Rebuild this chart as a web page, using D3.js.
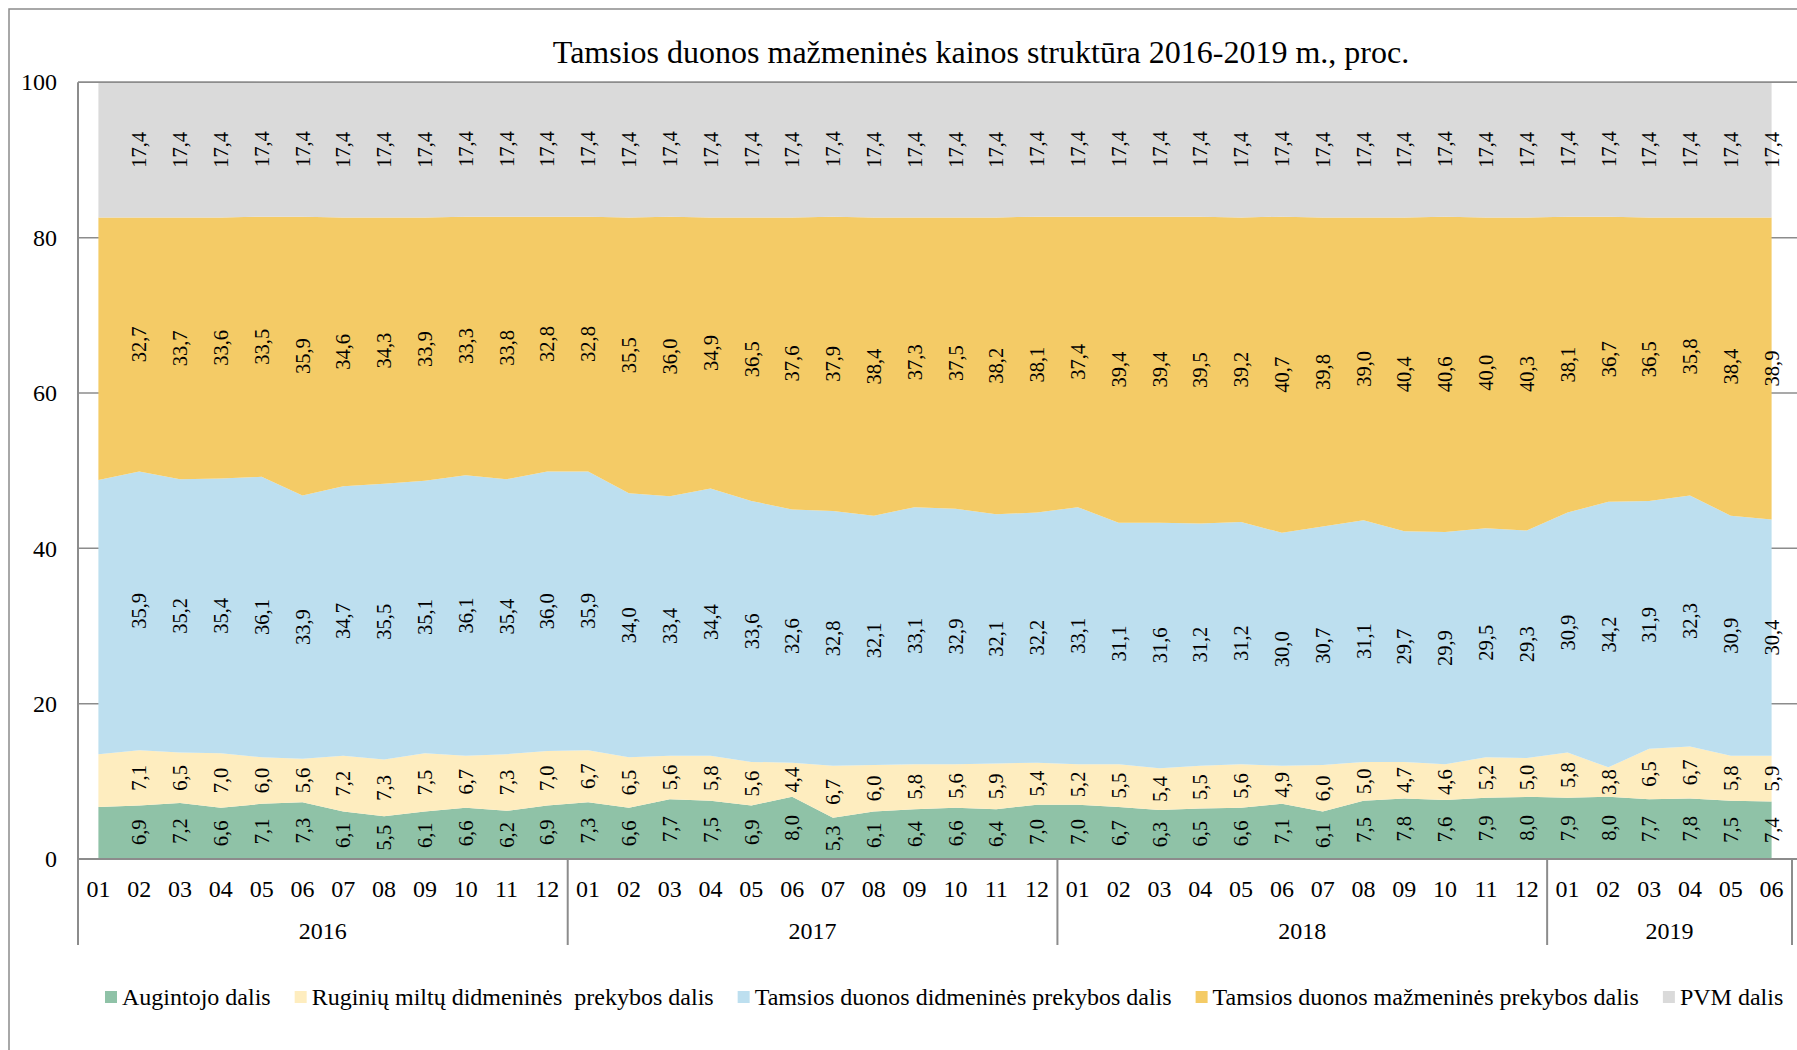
<!DOCTYPE html>
<html>
<head>
<meta charset="utf-8">
<script src="https://cdn.jsdelivr.net/npm/d3@7"></script>
<style>
  body { margin: 0; background: #fff; }
  svg text { font-family: "Liberation Serif", "Times New Roman", serif; fill: #000; }
</style>
</head>
<body>
<svg id="chart"></svg>
<script>
// categories
var years = ["2016", "2017", "2018", "2019"]
var monthsPerYear = [12, 12, 12, 6]
var monthLabels = ["01","02","03","04","05","06","07","08","09","10","11","12",
                   "01","02","03","04","05","06","07","08","09","10","11","12",
                   "01","02","03","04","05","06","07","08","09","10","11","12",
                   "01","02","03","04","05","06"]

// series values, % of retail price (first month estimated, it has no labels in the source)
var augintojo = [6.7, 6.9, 7.2, 6.6, 7.1, 7.3, 6.1, 5.5, 6.1, 6.6, 6.2, 6.9,
                 7.3, 6.6, 7.7, 7.5, 6.9, 8.0, 5.3, 6.1, 6.4, 6.6, 6.4, 7.0,
                 7.0, 6.7, 6.3, 6.5, 6.6, 7.1, 6.1, 7.5, 7.8, 7.6, 7.9, 8.0,
                 7.9, 8.0, 7.7, 7.8, 7.5, 7.4]
var ruginiu = [6.8, 7.1, 6.5, 7.0, 6.0, 5.6, 7.2, 7.3, 7.5, 6.7, 7.3, 7.0,
               6.7, 6.5, 5.6, 5.8, 5.6, 4.4, 6.7, 6.0, 5.8, 5.6, 5.9, 5.4,
               5.2, 5.5, 5.4, 5.5, 5.6, 4.9, 6.0, 5.0, 4.7, 4.6, 5.2, 5.0,
               5.8, 3.8, 6.5, 6.7, 5.8, 5.9]
var didmenine = [35.3, 35.9, 35.2, 35.4, 36.1, 33.9, 34.7, 35.5, 35.1, 36.1, 35.4, 36.0,
                 35.9, 34.0, 33.4, 34.4, 33.6, 32.6, 32.8, 32.1, 33.1, 32.9, 32.1, 32.2,
                 33.1, 31.1, 31.6, 31.2, 31.2, 30.0, 30.7, 31.1, 29.7, 29.9, 29.5, 29.3,
                 30.9, 34.2, 31.9, 32.3, 30.9, 30.4]
var mazmenine = [33.8, 32.7, 33.7, 33.6, 33.5, 35.9, 34.6, 34.3, 33.9, 33.3, 33.8, 32.8,
                 32.8, 35.5, 36.0, 34.9, 36.5, 37.6, 37.9, 38.4, 37.3, 37.5, 38.2, 38.1,
                 37.4, 39.4, 39.4, 39.5, 39.2, 40.7, 39.8, 39.0, 40.4, 40.6, 40.0, 40.3,
                 38.1, 36.7, 36.5, 35.8, 38.4, 38.9]
var pvm = [17.4, 17.4, 17.4, 17.4, 17.4, 17.4, 17.4, 17.4, 17.4, 17.4, 17.4, 17.4,
           17.4, 17.4, 17.4, 17.4, 17.4, 17.4, 17.4, 17.4, 17.4, 17.4, 17.4, 17.4,
           17.4, 17.4, 17.4, 17.4, 17.4, 17.4, 17.4, 17.4, 17.4, 17.4, 17.4, 17.4,
           17.4, 17.4, 17.4, 17.4, 17.4, 17.4]

var seriesNames = ["Augintojo dalis",
                   "Ruginių miltų didmeninės  prekybos dalis",
                   "Tamsios duonos didmeninės prekybos dalis",
                   "Tamsios duonos mažmeninės prekybos dalis",
                   "PVM dalis"]
var yTicks = [0, 20, 40, 60, 80, 100]
var title = "Tamsios duonos mažmeninės kainos struktūra 2016-2019 m., proc."

var colors = ["#8fc2a7", "#feedbf", "#bddfef", "#f4cb66", "#dadada"]
var labelFrom = 1

var dimensions = {
    width: 1797,
    height: 1050,
    margin: { top: 82.3, bottom: 191, left: 78, right: 5 }
}

var svg = d3.select("#chart")
            .attr("width", dimensions.width)
            .attr("height", dimensions.height)

// outer chart border (runs off the right / bottom edge like the source)
svg.append("rect")
   .attr("x", 9).attr("y", 9)
   .attr("width", dimensions.width).attr("height", dimensions.height)
   .attr("fill", "none").attr("stroke", "#8c8c8c").attr("stroke-width", 1.5)

var table = monthLabels.map(function(m, i) {
    return { i: i, a: augintojo[i], r: ruginiu[i], d: didmenine[i], m: mazmenine[i], p: pvm[i] }
})
var keys = ["a", "r", "d", "m", "p"]
var stackedData = d3.stack().keys(keys)(table)

var plotBottom = dimensions.height - dimensions.margin.bottom
var xScale = d3.scaleBand()
               .domain(d3.range(monthLabels.length))
               .range([dimensions.margin.left, 1792])
var xc = function(i) { return xScale(i) + xScale.bandwidth() / 2 }
var yScale = d3.scaleLinear()
               .domain([0, 100])
               .range([plotBottom, dimensions.margin.top])

// gridlines
svg.append("g").selectAll("line").data(yTicks).enter().append("line")
   .attr("x1", dimensions.margin.left).attr("x2", dimensions.width)
   .attr("y1", d => yScale(d)).attr("y2", d => yScale(d))
   .attr("stroke", "#8c8c8c").attr("stroke-width", 1.5)

var area = d3.area()
             .x(d => xc(d.data.i))
             .y0(d => yScale(d[0]))
             .y1(d => yScale(d[1]))

svg.append("g").selectAll("path").data(stackedData).enter().append("path")
   .attr("d", area)
   .attr("fill", (d, i) => colors[i])

// top & bottom lines above the fills
svg.append("line")
   .attr("x1", dimensions.margin.left).attr("x2", dimensions.width)
   .attr("y1", yScale(100)).attr("y2", yScale(100))
   .attr("stroke", "#8c8c8c").attr("stroke-width", 1.5)
svg.append("line")
   .attr("x1", dimensions.margin.left).attr("x2", dimensions.width)
   .attr("y1", yScale(0)).attr("y2", yScale(0))
   .attr("stroke", "#8c8c8c").attr("stroke-width", 2)

// data labels, rotated
var labelGroups = svg.append("g").selectAll("g").data(stackedData).enter().append("g")
labelGroups.selectAll("text")
   .data(d => d.filter(p => p.data.i >= labelFrom))
   .enter().append("text")
   .attr("transform", d => "translate(" + xc(d.data.i) + "," + yScale((d[0] + d[1]) / 2) + ") rotate(-90)")
   .attr("text-anchor", "middle")
   .attr("dy", "0.35em")
   .style("font-size", "20.5px")
   .text(d => d3.format(".1f")(d[1] - d[0]).replace(".", ","))

// y axis
var yAxis = d3.axisLeft(yScale).tickValues(yTicks).tickSize(0).tickPadding(21)
var yAxisG = svg.append("g")
   .attr("transform", "translate(" + dimensions.margin.left + ",0)")
   .call(yAxis)
yAxisG.select(".domain").remove()
yAxisG.selectAll("text").style("font-size", "24px").style("font-family", "Liberation Serif")

// x axis: months, then year groups
var xAxis = d3.axisBottom(xScale).tickSize(0).tickPadding(21).tickFormat(i => monthLabels[i])
var xAxisG = svg.append("g")
   .attr("transform", "translate(0," + plotBottom + ")")
   .call(xAxis)
xAxisG.select(".domain").remove()
xAxisG.selectAll("text").style("font-size", "24px").style("font-family", "Liberation Serif")

// left axis line
svg.append("line")
   .attr("x1", dimensions.margin.left).attr("x2", dimensions.margin.left)
   .attr("y1", yScale(100)).attr("y2", plotBottom + 86)
   .attr("stroke", "#8c8c8c").attr("stroke-width", 2)

var start = 0
years.forEach(function(y, k) {
    var first = start, last = start + monthsPerYear[k] - 1
    var x0 = xScale(first), x1 = xScale(last) + xScale.bandwidth()
    svg.append("line")
       .attr("x1", x1).attr("x2", x1)
       .attr("y1", plotBottom).attr("y2", plotBottom + 86)
       .attr("stroke", "#8c8c8c").attr("stroke-width", 2)
    svg.append("text")
       .attr("x", (x0 + x1) / 2).attr("y", plotBottom + 80)
       .attr("text-anchor", "middle")
       .style("font-size", "24px")
       .text(y)
    start = last + 1
})

// title
svg.append("text")
   .attr("x", 981).attr("y", 63)
   .attr("text-anchor", "middle")
   .style("font-size", "32px")
   .text(title)

// legend
var legend = svg.append("g").attr("transform", "translate(105,997)")
var lx = 0
seriesNames.forEach(function(name, i) {
    legend.append("rect")
          .attr("x", lx).attr("y", -6).attr("width", 12).attr("height", 12)
          .attr("fill", colors[i])
    var t = legend.append("text")
          .attr("x", lx + 17).attr("y", 0).attr("dy", "0.35em")
          .style("font-size", "24px").style("white-space", "pre")
          .text(name)
    lx += 17 + t.node().getComputedTextLength() + 24
})
</script>
</body>
</html>
